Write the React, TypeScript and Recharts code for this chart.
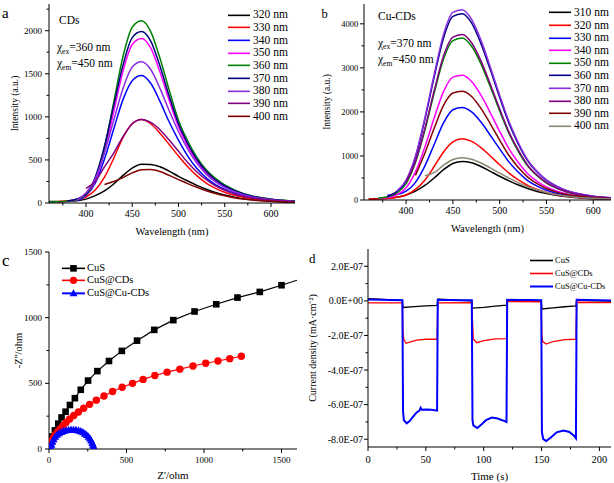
import React from "react"
import { LineChart, Line, XAxis, YAxis, Legend } from "recharts"

const SERIF = "'Liberation Serif', 'Times New Roman', serif"

// ---- panel a / b: emission spectra (nm) ----
const wavelength = [360, 370, 380, 390, 400, 410, 420, 430, 440, 450, 460, 470, 480, 490, 500, 510, 520, 530, 540, 550, 560, 570, 580, 590, 600, 610, 620, 630]

const cds320 = [18, 18, 20, 25, 45, 85, 140, 220, 320, 405, 450, 448, 420, 370, 310, 255, 205, 160, 122, 92, 68, 50, 37, 28, 21, 16, 12, 9]
const cds330 = [null, 18, 24, 40, 70, 150, 300, 520, 760, 920, 970, 920, 810, 680, 545, 420, 315, 232, 170, 124, 91, 67, 49, 36, 27, 20, 15, 11]
const cds340 = [null, null, 25, 32, 85, 230, 510, 860, 1200, 1420, 1480, 1390, 1180, 940, 730, 545, 400, 292, 213, 157, 116, 85, 62, 46, 34, 25, 19, 14]
const cds350 = [null, 10, 16, 36, 90, 260, 600, 1060, 1530, 1840, 1910, 1800, 1520, 1190, 885, 660, 485, 352, 258, 190, 140, 102, 75, 55, 41, 30, 23, 17]
const cds360 = [12, 14, 20, 40, 95, 280, 640, 1170, 1700, 2040, 2115, 1990, 1680, 1310, 960, 720, 530, 385, 285, 210, 155, 112, 82, 60, 45, 34, 26, 20]
const cds370 = [null, null, 22, 48, 105, 300, 660, 1130, 1600, 1920, 1990, 1880, 1590, 1240, 920, 690, 505, 368, 270, 200, 147, 107, 78, 57, 43, 32, 24, 18]
const cds380 = [null, null, null, 40, 115, 280, 580, 960, 1330, 1580, 1640, 1550, 1330, 1070, 830, 625, 460, 335, 245, 180, 133, 97, 71, 52, 39, 29, 22, 16]
const cds390 = [null, null, null, null, 170, 250, 420, 580, 770, 920, 970, 935, 850, 730, 600, 470, 360, 270, 200, 148, 108, 80, 59, 43, 32, 24, 18, 13]
const cds400 = [null, null, null, null, null, null, 215, 250, 295, 350, 385, 388, 365, 320, 272, 225, 182, 143, 110, 83, 62, 46, 34, 25, 19, 14, 10, 8]

const cu310 = [25, 30, 40, 65, 115, 200, 330, 500, 690, 830, 875, 845, 760, 650, 540, 435, 340, 260, 195, 145, 107, 78, 57, 42, 31, 23, 17, 13]
const cu320 = [15, 20, 32, 60, 115, 240, 450, 760, 1090, 1320, 1390, 1330, 1190, 1000, 800, 610, 455, 330, 240, 172, 125, 90, 66, 48, 35, 26, 19, 14]
const cu330 = [null, null, 110, 125, 200, 400, 770, 1260, 1750, 2050, 2100, 2000, 1770, 1470, 1160, 860, 630, 440, 315, 220, 157, 111, 80, 59, 42, 31, 23, 17]
const cu340 = [null, 30, 55, 120, 280, 640, 1200, 1860, 2460, 2790, 2830, 2690, 2380, 1980, 1560, 1160, 850, 595, 425, 297, 212, 150, 108, 79, 57, 42, 31, 23]
const cu350 = [null, 40, 75, 160, 370, 850, 1580, 2430, 3200, 3620, 3680, 3490, 3090, 2570, 2020, 1510, 1100, 770, 550, 385, 275, 195, 140, 103, 74, 55, 40, 30]
const cu360 = [null, null, 80, 190, 430, 970, 1820, 2790, 3680, 4170, 4230, 4020, 3550, 2960, 2330, 1740, 1270, 890, 635, 445, 317, 224, 161, 118, 85, 63, 47, 35]
const cu370 = [null, null, null, 200, 450, 1000, 1860, 2850, 3760, 4260, 4320, 4100, 3630, 3020, 2380, 1780, 1300, 910, 650, 455, 324, 229, 164, 121, 87, 65, 48, 36]
const cu380 = [null, null, null, null, 410, 880, 1620, 2480, 3270, 3700, 3760, 3570, 3160, 2630, 2070, 1540, 1130, 790, 565, 395, 282, 200, 143, 105, 76, 56, 41, 30]
const cu390 = [null, null, null, null, null, 560, 1060, 1630, 2150, 2430, 2470, 2350, 2080, 1730, 1360, 1010, 740, 520, 370, 260, 185, 131, 94, 69, 50, 37, 27, 20]
const cu400 = [null, null, null, null, null, null, 550, 620, 790, 920, 960, 925, 840, 730, 610, 495, 390, 300, 228, 170, 126, 93, 68, 50, 37, 27, 20, 15]

const cdsSeries = [
  { key: "e320", name: "320 nm", color: "#000000", values: cds320 },
  { key: "e330", name: "330 nm", color: "#ff0000", values: cds330 },
  { key: "e340", name: "340 nm", color: "#0000ff", values: cds340 },
  { key: "e350", name: "350 nm", color: "#ff00ff", values: cds350 },
  { key: "e360", name: "360 nm", color: "#008000", values: cds360 },
  { key: "e370", name: "370 nm", color: "#000080", values: cds370 },
  { key: "e380", name: "380 nm", color: "#8a2be2", values: cds380 },
  { key: "e390", name: "390 nm", color: "#800080", values: cds390 },
  { key: "e400", name: "400 nm", color: "#800000", values: cds400 },
]

const cuSeries = [
  { key: "e310", name: "310 nm", color: "#000000", values: cu310 },
  { key: "e320", name: "320 nm", color: "#ff0000", values: cu320 },
  { key: "e330", name: "330 nm", color: "#0000ff", values: cu330 },
  { key: "e340", name: "340 nm", color: "#ff00ff", values: cu340 },
  { key: "e350", name: "350 nm", color: "#008000", values: cu350 },
  { key: "e360", name: "360 nm", color: "#000080", values: cu360 },
  { key: "e370", name: "370 nm", color: "#8a2be2", values: cu370 },
  { key: "e380", name: "380 nm", color: "#800080", values: cu380 },
  { key: "e390", name: "390 nm", color: "#800000", values: cu390 },
  { key: "e400", name: "400 nm", color: "#8a8670", values: cu400 },
]

// ---- panel c: Nyquist (ohm) ----
const cusX = [0, 6, 21, 38, 60, 81, 107, 135, 167, 205, 252, 312, 387, 470, 568, 679, 802, 939, 1079, 1216, 1360, 1500, 1600]
const cusY = [8, 52, 95, 142, 193, 240, 284, 335, 387, 451, 521, 593, 670, 747, 825, 907, 981, 1047, 1102, 1153, 1196, 1247, 1285]
const cusCdsX = [3, 10, 19, 30, 42, 56, 72, 90, 110, 133, 160, 190, 224, 262, 305, 355, 410, 472, 539, 607, 683, 762, 844, 929, 1011, 1090, 1166, 1241]
const cusCdsY = [14, 40, 64, 88, 110, 132, 155, 178, 202, 228, 255, 282, 310, 340, 372, 404, 438, 470, 500, 530, 560, 585, 608, 632, 653, 670, 688, 706]
const cusCuX = [12, 16, 22, 30, 40, 52, 65, 80, 95, 110, 126, 142, 158, 174, 190, 205, 219, 232, 244, 255, 264, 272, 279, 284, 288, 291]
const cusCuY = [10, 32, 55, 75, 93, 108, 120, 130, 137, 142, 145, 147, 147, 145, 141, 135, 127, 117, 106, 93, 79, 64, 48, 32, 17, 3]

// ---- panel d: photocurrent (x1e-7 mA cm-2) ----
const cusT = [0, 10, 20, 29.7, 30.3, 40, 50, 59.7, 60.3, 70, 80, 89.7, 90.3, 100, 110, 119.7, 120.3, 130, 140, 149.7, 150.3, 160, 170, 179.7, 180.3, 190, 200, 210]
const cusI = [0.13, 0.1, 0.06, 0.03, -0.38, -0.33, -0.29, -0.26, 0.1, 0.07, 0.03, 0.0, -0.42, -0.37, -0.3, -0.24, 0.05, 0.04, 0.02, 0.0, -0.47, -0.4, -0.34, -0.29, 0.04, 0.02, 0.0, -0.02]
const cdsT = [0, 29.7, 30.2, 31, 33, 36, 42, 50, 59.7, 60.3, 89.7, 90.2, 91, 94, 100, 110, 119.7, 120.3, 149.7, 150.2, 151, 154, 160, 170, 179.7, 180.3, 210]
const cdsI = [-0.12, -0.12, -1.85, -2.25, -2.45, -2.38, -2.27, -2.22, -2.22, -0.12, -0.1, -1.0, -2.2, -2.42, -2.3, -2.2, -2.18, -0.04, -0.05, -2.0, -2.35, -2.5, -2.35, -2.24, -2.22, -0.08, -0.1]
const cuT = [0, 10, 20, 29.7, 30.3, 31, 33.5, 36, 39, 42, 44.5, 45.5, 46.5, 50, 55, 59.7, 60.3, 70, 80, 89.7, 90.3, 91, 94.5, 98, 102, 107, 112, 116, 119.7, 120.3, 130, 140, 149.7, 150.3, 151.5, 154, 158, 163, 169, 174, 178, 179.7, 180.3, 190, 200, 210]
const cuI = [0.08, 0.06, 0.05, 0.04, -6.4, -6.9, -7.08, -6.95, -6.7, -6.45, -6.35, -6.18, -6.3, -6.28, -6.3, -6.35, 0.06, 0.05, 0.04, 0.03, -6.9, -7.2, -7.35, -7.15, -6.9, -6.75, -6.8, -6.9, -7.0, 0.06, 0.05, 0.05, 0.04, -7.6, -8.0, -8.1, -7.9, -7.6, -7.5, -7.58, -7.8, -7.95, 0.06, 0.05, 0.03, 0.02]

const markerOf: Record<string, string> = { "CuS": "square", "CuS@CDs": "circle", "CuS@Cu-CDs": "triangle" }

const toPoints = (xs: number[], ys: number[]) => xs.map((x, i) => ({ x, y: ys[i] }))

function spectraRows(series: { key: string; values: (number | null)[] }[]) {
  return wavelength.map((wl, i) => {
    const row: Record<string, number | null> = { wl }
    series.forEach((s) => (row[s.key] = s.values[i]))
    return row
  })
}

function bottomTick(majors: number[], fmt: (v: number) => string, size: number, gap: number) {
  return (p: any) => {
    const v = p.payload.value
    const major = majors.includes(v)
    return (
      <g>
        <line x1={p.x} x2={p.x} y1={p.y} y2={p.y + (major ? 4 : 2.5)} stroke="#000" />
        {major && (
          <text x={p.x} y={p.y + gap} textAnchor="middle" fontSize={size} fontFamily={SERIF} fill="#000">
            {fmt(v)}
          </text>
        )}
      </g>
    )
  }
}

function leftTick(majors: number[], fmt: (v: number) => string, size: number, gap: number) {
  return (p: any) => {
    const v = p.payload.value
    const major = majors.includes(v)
    return (
      <g>
        <line x1={p.x} x2={p.x - (major ? 4 : 2.5)} y1={p.y} y2={p.y} stroke="#000" />
        {major && (
          <text x={p.x - gap} y={p.y + size * 0.35} textAnchor="end" fontSize={size} fontFamily={SERIF} fill="#000">
            {fmt(v)}
          </text>
        )}
      </g>
    )
  }
}

const plain = (v: number) => String(v)
const sci = (v: number) => (v === 0 ? "0.0E+00" : `${v.toFixed(1)}E-07`)

function Marker({ kind, cx, cy, color }: { kind: string; cx: number; cy: number; color: string }) {
  if (kind === "square") return <rect x={cx - 3.3} y={cy - 3.3} width={6.6} height={6.6} fill={color} />
  if (kind === "circle") return <circle cx={cx} cy={cy} r={3.7} fill={color} />
  return <path d={`M${cx},${cy - 4.2}L${cx + 4},${cy + 3}L${cx - 4},${cy + 3}Z`} fill={color} />
}

const dotFor = (kind: string, color: string, lastIndex: number) => (p: any) => {
  if (p.index === lastIndex || p.cx == null) return <g key={`m-${kind}-${p.index}`} />
  return (
    <g key={`m-${kind}-${p.index}`}>
      <Marker kind={kind} cx={p.cx} cy={p.cy} color={color} />
    </g>
  )
}

function LineLegend(props: any) {
  const { payload = [], rowH, lineW, gap, fontSize, markers } = props
  return (
    <div style={{ fontFamily: SERIF, fontSize, color: "#000" }}>
      {payload.map((item: any) => (
        <div key={item.value} style={{ display: "flex", alignItems: "center", height: rowH, whiteSpace: "nowrap" }}>
          <svg width={lineW} height={rowH} style={{ display: "block", overflow: "visible" }}>
            <line x1={0} x2={lineW} y1={rowH / 2} y2={rowH / 2} stroke={item.color} strokeWidth={item.value === "CuS@Cu-CDs" ? 2 : 1.6} />
            {markers && <Marker kind={markerOf[item.value]} cx={lineW / 2} cy={rowH / 2} color={item.color} />}
          </svg>
          <span style={{ marginLeft: gap, lineHeight: 1 }}>{item.value}</span>
        </div>
      ))}
    </div>
  )
}

const frameAxes = (xDomain: number[], yDomain: number[]) => [
  <XAxis key="tx" xAxisId="top" orientation="top" type="number" domain={xDomain} height={0} tick={false} tickLine={false} axisLine={{ stroke: "#000" }} allowDataOverflow />,
  <YAxis key="ry" yAxisId="right" orientation="right" type="number" domain={yDomain} width={0} tick={false} tickLine={false} axisLine={{ stroke: "#000" }} allowDataOverflow />,
]

const titleStyle = (size: number) => ({ fontFamily: SERIF, fontSize: size, fill: "#000" })

function SpectraPanel(props: {
  series: typeof cdsSeries
  width: number
  height: number
  margin: { top: number; right: number; left: number; bottom: number }
  yWidth: number
  xHeight: number
  xDomain: number[]
  yDomain: number[]
  yTicks: number[]
  yMajors: number[]
  yTickSize: number
  yGap: number
  xGap: number
  yLabelOffset: number
  xLabelOffset: number
  legendLeft: number
  legendTop: number
  legendRow: number
}) {
  const p = props
  const rows = spectraRows(p.series)
  const xTicks = [375, 400, 425, 450, 475, 500, 525, 550, 575, 600]
  return (
    <LineChart width={p.width} height={p.height} data={rows} margin={p.margin}>
      <XAxis
        dataKey="wl"
        type="number"
        domain={p.xDomain}
        allowDataOverflow
        ticks={xTicks}
        interval={0}
        height={p.xHeight}
        tickSize={0}
        tickMargin={0}
        tickLine={false}
        axisLine={{ stroke: "#000" }}
        tick={bottomTick([400, 450, 500, 550, 600], plain, 10, p.xGap)}
        label={{ value: "Wavelength (nm)", position: "insideBottom", offset: p.xLabelOffset, style: titleStyle(10.5) }}
      />
      <YAxis
        type="number"
        domain={p.yDomain}
        allowDataOverflow
        ticks={p.yTicks}
        interval={0}
        width={p.yWidth}
        tickSize={0}
        tickMargin={0}
        tickLine={false}
        axisLine={{ stroke: "#000" }}
        tick={leftTick(p.yMajors, plain, p.yTickSize, p.yGap)}
        label={{ value: "Intensity (a.u.)", angle: -90, position: "insideLeft", offset: p.yLabelOffset, style: { ...titleStyle(9.5), textAnchor: "middle" } }}
      />
      {frameAxes(p.xDomain, p.yDomain)}
      {p.series.map((s) => (
        <Line key={s.key} dataKey={s.key} name={s.name} type="monotone" stroke={s.color} strokeWidth={1.5} dot={false} activeDot={false} isAnimationActive={false} />
      ))}
      <Legend
        layout="vertical"
        align="center"
        verticalAlign="middle"
        wrapperStyle={{ left: p.legendLeft, top: p.legendTop, width: "auto" }}
        content={(lp: any) => <LineLegend {...lp} rowH={p.legendRow} lineW={22} gap={3} fontSize={11.5} />}
      />
    </LineChart>
  )
}

function PanelC() {
  const xDomain = [0, 1600]
  const yDomain = [0, 1500]
  const series = [
    { name: "CuS", color: "#000000", pts: toPoints(cusX, cusY), last: cusX.length - 1 },
    { name: "CuS@CDs", color: "#ff0000", pts: toPoints(cusCdsX, cusCdsY), last: -1 },
    { name: "CuS@Cu-CDs", color: "#0000ff", pts: toPoints(cusCuX, cusCuY), last: -1 },
  ]
  return (
    <LineChart width={305} height={243} margin={{ top: 12, right: 8, left: 0, bottom: 0 }}>
      <XAxis
        dataKey="x"
        type="number"
        domain={xDomain}
        allowDataOverflow
        ticks={[0, 250, 500, 750, 1000, 1250, 1500]}
        interval={0}
        height={34}
        tickSize={0}
        tickMargin={0}
        tickLine={false}
        axisLine={{ stroke: "#000" }}
        tick={bottomTick([0, 500, 1000, 1500], plain, 9, 14.3)}
        label={{ value: "Z'/ohm", position: "insideBottom", offset: 4.5, style: titleStyle(11) }}
      />
      <YAxis
        dataKey="y"
        type="number"
        domain={yDomain}
        allowDataOverflow
        ticks={[0, 250, 500, 750, 1000, 1250, 1500]}
        interval={0}
        width={49}
        tickSize={0}
        tickMargin={0}
        tickLine={false}
        axisLine={{ stroke: "#000" }}
        tick={leftTick([0, 500, 1000, 1500], plain, 9, 7)}
        label={{ value: "-Z''/ohm", angle: -90, position: "insideLeft", offset: 18, style: { ...titleStyle(10.5), textAnchor: "middle" } }}
      />
      {frameAxes(xDomain, yDomain)}
      {series.map((s) => (
        <Line
          key={s.name}
          data={s.pts}
          dataKey="y"
          name={s.name}
          type="linear"
          stroke={s.color}
          strokeWidth={1.2}
          dot={dotFor(markerOf[s.name], s.color, s.last)}
          activeDot={false}
          isAnimationActive={false}
        />
      ))}
      <Legend
        layout="vertical"
        align="center"
        verticalAlign="middle"
        wrapperStyle={{ left: 62, top: 21.6, width: "auto" }}
        content={(lp: any) => <LineLegend {...lp} rowH={12.7} lineW={23} gap={2} fontSize={10.5} markers />}
      />
    </LineChart>
  )
}

function PanelD() {
  const xDomain = [0, 210]
  const yDomain = [-8.45, 3]
  const series = [
    { name: "CuS", color: "#000000", pts: toPoints(cusT, cusI), w: 1.3 },
    { name: "CuS@CDs", color: "#ff0000", pts: toPoints(cdsT, cdsI), w: 1.3 },
    { name: "CuS@Cu-CDs", color: "#0000ff", pts: toPoints(cuT, cuI), w: 2 },
  ]
  return (
    <LineChart width={309} height={243} margin={{ top: 9, right: 3, left: 0, bottom: 0 }}>
      <XAxis
        dataKey="x"
        type="number"
        domain={xDomain}
        allowDataOverflow
        ticks={[0, 25, 50, 75, 100, 125, 150, 175, 200]}
        interval={0}
        height={36}
        tickSize={0}
        tickMargin={0}
        tickLine={false}
        axisLine={{ stroke: "#000" }}
        tick={bottomTick([0, 50, 100, 150, 200], plain, 10.5, 16)}
        label={{ value: "Time (s)", position: "insideBottom", offset: 3.5, style: titleStyle(11) }}
      />
      <YAxis
        dataKey="y"
        type="number"
        domain={yDomain}
        allowDataOverflow
        ticks={[2, 1, 0, -1, -2, -3, -4, -5, -6, -7, -8]}
        interval={0}
        width={63}
        tickSize={0}
        tickMargin={0}
        tickLine={false}
        axisLine={{ stroke: "#000" }}
        tick={leftTick([2, 0, -2, -4, -6, -8], sci, 10, 5)}
        label={{ value: "Current density (mA·cm⁻²)", angle: -90, position: "insideLeft", offset: 7, style: { ...titleStyle(10), textAnchor: "middle" } }}
      />
      {frameAxes(xDomain, yDomain)}
      {series.map((s) => (
        <Line key={s.name} data={s.pts} dataKey="y" name={s.name} type="linear" stroke={s.color} strokeWidth={s.w} dot={false} activeDot={false} isAnimationActive={false} />
      ))}
      <Legend
        layout="vertical"
        align="center"
        verticalAlign="middle"
        wrapperStyle={{ left: 225, top: 13.5, width: "auto" }}
        content={(lp: any) => <LineLegend {...lp} rowH={13} lineW={23} gap={2} fontSize={8.5} />}
      />
    </LineChart>
  )
}

function Notes() {
  const t = { fontFamily: SERIF, fill: "#000" }
  return (
    <svg width={614} height={483} style={{ position: "absolute", left: 0, top: 0, pointerEvents: "none" }}>
      <text x={2} y={18.3} fontSize={15} {...t}>a</text>
      <text x={321.5} y={18.3} fontSize={12.5} {...t}>b</text>
      <text x={2} y={266} fontSize={17} {...t}>c</text>
      <text x={309} y={262.7} fontSize={13} {...t}>d</text>

      <text x={59} y={24} fontSize={11.5} {...t}>CDs</text>
      <text x={57} y={51} fontSize={11.5} {...t}>
        χ<tspan fontSize={7.5} dy={2.5}>ex</tspan>
        <tspan dy={-2.5}>=360 nm</tspan>
      </text>
      <text x={57} y={67} fontSize={11.5} {...t}>
        χ<tspan fontSize={7.5} dy={2.5}>em</tspan>
        <tspan dy={-2.5}>=450 nm</tspan>
      </text>

      <text x={378} y={20} fontSize={11.5} {...t}>Cu-CDs</text>
      <text x={378} y={46.6} fontSize={11.5} {...t}>
        χ<tspan fontSize={7.5} dy={2.5}>ex</tspan>
        <tspan dy={-2.5}>=370 nm</tspan>
      </text>
      <text x={378} y={63} fontSize={11.5} {...t}>
        χ<tspan fontSize={7.5} dy={2.5}>em</tspan>
        <tspan dy={-2.5}>=450 nm</tspan>
      </text>
    </svg>
  )
}

export default function App() {
  return (
    <div style={{ position: "fixed", left: 0, top: 0, width: 614, height: 483, background: "#fff", fontFamily: SERIF, overflow: "hidden" }}>
      <div style={{ position: "absolute", left: 0, top: 0 }}>
        <SpectraPanel
          series={cdsSeries}
          width={305}
          height={240}
          margin={{ top: 4, right: 10, left: 0, bottom: 0 }}
          yWidth={49}
          xHeight={37}
          xDomain={[360, 626]}
          yDomain={[0, 2310]}
          yTicks={[0, 250, 500, 750, 1000, 1250, 1500, 1750, 2000, 2250]}
          yMajors={[0, 500, 1000, 1500, 2000]}
          yTickSize={9}
          yGap={7}
          xGap={13.5}
          yLabelOffset={15}
          xLabelOffset={5.5}
          legendLeft={228}
          legendTop={8.6}
          legendRow={12.7}
        />
      </div>
      <div style={{ position: "absolute", left: 305, top: 0 }}>
        <SpectraPanel
          series={cuSeries}
          width={309}
          height={240}
          margin={{ top: 4, right: 3, left: 0, bottom: 0 }}
          yWidth={59}
          xHeight={40}
          xDomain={[355, 619]}
          yDomain={[0, 4450]}
          yTicks={[0, 500, 1000, 1500, 2000, 2500, 3000, 3500, 4000]}
          yMajors={[0, 1000, 2000, 3000, 4000]}
          yTickSize={8.5}
          yGap={5.7}
          xGap={14.2}
          yLabelOffset={22}
          xLabelOffset={8}
          legendLeft={244}
          legendTop={6.4}
          legendRow={12.6}
        />
      </div>
      <div style={{ position: "absolute", left: 0, top: 240 }}>
        <PanelC />
      </div>
      <div style={{ position: "absolute", left: 305, top: 240 }}>
        <PanelD />
      </div>
      <Notes />
    </div>
  )
}
